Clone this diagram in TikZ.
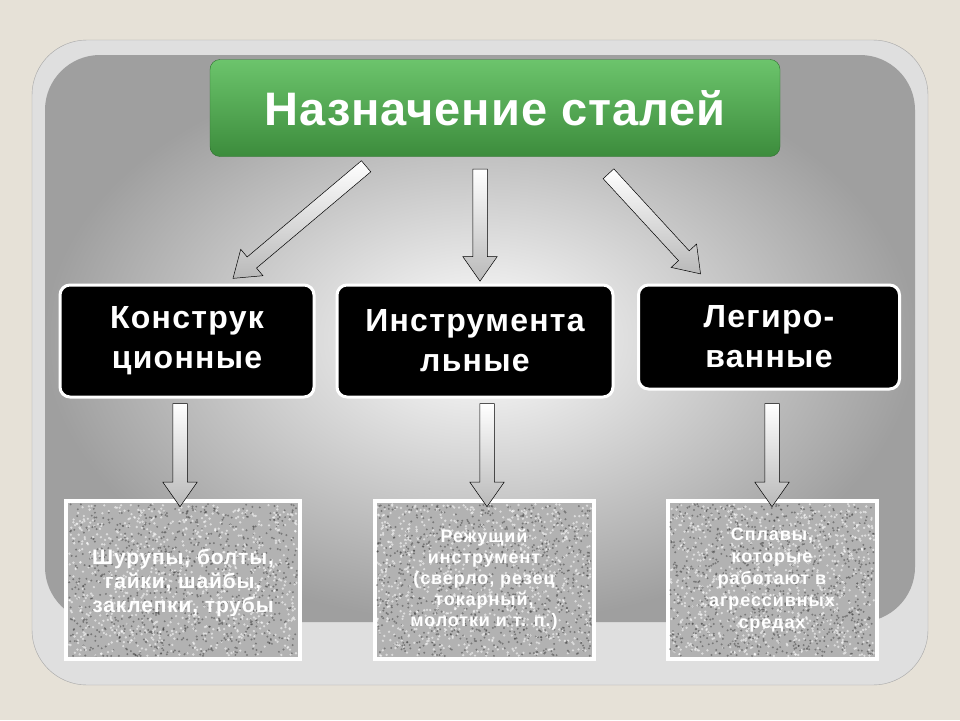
\documentclass[tikz,border=0pt]{standalone}
\usepackage{fontspec}
\setmainfont{Liberation Sans}
\newfontfamily\spA[LetterSpace=4]{Liberation Sans}
\newfontfamily\spB[LetterSpace=4]{Liberation Sans}
\newfontfamily\spC[LetterSpace=5]{Liberation Sans}
\newfontfamily\spT[LetterSpace=2]{Liberation Sans}
\usetikzlibrary{shapes.arrows,calc}
\definecolor{bg}{HTML}{E6E1D7}
\definecolor{gtop}{HTML}{6CC46C}
\definecolor{gbot}{HTML}{3C8C3C}
\tikzset{
  cat/.style={draw=white,line width=3pt,fill=black,rounded corners=10pt,text=white,font=\spA\bfseries\fontsize{32}{40}\selectfont,align=center},
  ex/.style={draw=white,line width=4pt,fill=gray!60,text=white,align=center},
  extxt/.style={text=white,font=\spB\bfseries\fontsize{21}{24}\selectfont,align=center},
  barrow/.style={single arrow,draw=black,line width=0.5pt,left color=white,right color=gray!55,shading angle=0,
    minimum width=34pt,single arrow head extend=10pt,inner sep=7pt,single arrow tip angle=70,anchor=center}
}
\begin{document}
\begin{tikzpicture}[x=1pt,y=-1pt]
\useasboundingbox (0,0) rectangle (960,720);
\fill[bg] (0,0) rectangle (960,720);
\draw[gray!70,fill=gray!25,rounded corners=55pt] (32,40) rectangle (928,685);
\shade[inner color=white,outer color=gray!75,rounded corners=55pt] (45,55) rectangle (915,622);
\node[rounded corners=10pt,top color=gtop,bottom color=gbot,draw=gbot!80!black,minimum width=570pt,minimum height=97pt,text=white,font=\spT\bfseries\fontsize{47}{52}\selectfont] (t) at (495,108) {Назначение сталей};
\node[cat,minimum width=254pt,minimum height=112pt] (a) at (187,341) {Конструк\\ционные};
\node[cat,minimum width=276pt,minimum height=112pt] (b) at (475,341) {Инструмента\\льные};
\node[cat,minimum width=261pt,minimum height=104pt] (c) at (769,337) {Легиро-\\ванные};
\node[ex,minimum width=234pt,minimum height=158pt] (a2) at (183,580) {};
\node[ex,minimum width=219pt,minimum height=158pt] (b2) at (484,580) {};
\node[ex,minimum width=209pt,minimum height=158pt] (c2) at (772,580) {};
\foreach \bx/\w in {183/114,484/107,772/102}{
  \pgfmathsetseed{\bx}
  \foreach \i in {1,...,900}{
    \pgfmathsetmacro{\xx}{\bx+rand*\w}\pgfmathsetmacro{\yy}{580+rand*76}
    \fill[white,opacity=0.55] (\xx,\yy) circle (1.3pt);
    \pgfmathsetmacro{\xx}{\bx+rand*\w}\pgfmathsetmacro{\yy}{580+rand*76}
    \fill[gray!40!black,opacity=0.45] (\xx,\yy) circle (1.1pt);
  }
}
\node[extxt] at (183,583) {Шурупы, болты,\\гайки, шайбы,\\заклепки, трубы};
\node[extxt,font=\spC\bfseries\fontsize{18}{21}\selectfont] at (b2) {Режущий\\инструмент\\(сверло, резец\\токарный,\\молотки и т. п.)};
\node[extxt,font=\spC\bfseries\fontsize{18}{22}\selectfont] at (c2) {Сплавы,\\которые\\работают в\\агрессивных\\средах};
\coordinate (l1) at (370,163); \coordinate (l2) at (237,275);
\node[barrow,minimum height=174pt,rotate=220.1] at ($(l1)!0.5!(l2)$) {};
\node[barrow,minimum height=112pt,rotate=270] at (480,220) {};
\coordinate (r1) at (605,170); \coordinate (r2) at (697,270);
\node[barrow,minimum height=136pt,rotate=-47.4] at ($(r1)!0.5!(r2)$) {};
\node[barrow,minimum height=103pt,rotate=270] at (180,450) {};
\node[barrow,minimum height=103pt,rotate=270] at (487,450) {};
\node[barrow,minimum height=103pt,rotate=270] at (772,450) {};
\end{tikzpicture}
\end{document}
